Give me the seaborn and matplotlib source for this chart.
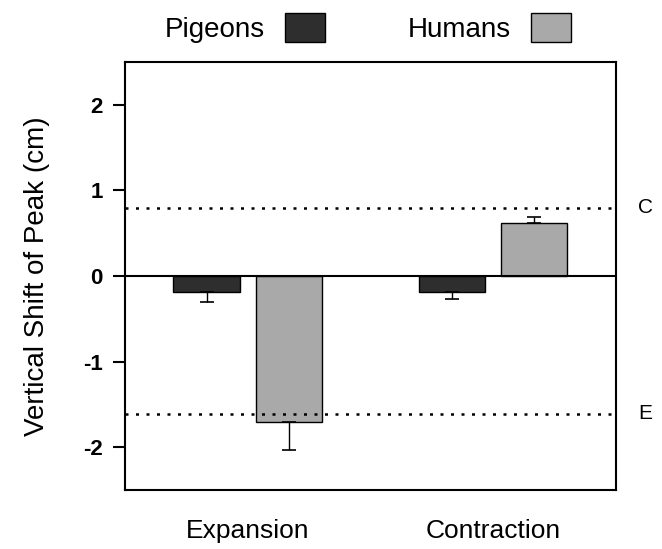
import numpy as np
import pandas as pd
import seaborn as sns
import matplotlib.pyplot as plt

conditions = ['Expansion', 'Contraction']
groups = ['Pigeons', 'Humans']
pigeon_shift = [-0.19, -0.19]
human_shift = [-1.71, 0.62]
pigeon_err = [0.11, 0.08]
human_err = [0.32, 0.075]
ref_lines = {'C': 0.80, 'E': -1.61}

df = pd.DataFrame({
    'Condition': conditions * 2,
    'Group': [groups[0]] * 2 + [groups[1]] * 2,
    'Shift': pigeon_shift + human_shift,
})
errs = {'Pigeons': pigeon_err, 'Humans': human_err}

sns.set_theme(style='white')
plt.rcParams['font.family'] = ['Liberation Sans', 'DejaVu Sans']
plt.rcParams['text.color'] = 'black'
plt.rcParams['axes.labelcolor'] = 'black'
plt.rcParams['xtick.color'] = 'black'
plt.rcParams['ytick.color'] = 'black'

fig = plt.figure(figsize=(6.62, 5.49), dpi=100)
ax = fig.add_axes([0.189, 0.1075, 0.741, 0.7795])

ax = sns.barplot(data=df, x='Condition', y='Shift', hue='Group', order=conditions,
                 hue_order=groups, palette=['#2e2e2e', '#a9a9a9'], width=0.67,
                 gap=0.19, edgecolor='black', linewidth=1.0, errorbar=None, ax=ax,
                 saturation=1)

# one-sided error bars, pointing away from zero
for container, g in zip(ax.containers, groups):
    for i, bar in enumerate(container):
        x = bar.get_x() + bar.get_width() / 2
        h = df.loc[(df['Group'] == g) & (df['Condition'] == conditions[i]), 'Shift'].iloc[0]
        e = errs[g][i]
        yerr = [[0], [e]] if h >= 0 else [[e], [0]]
        ax.errorbar(x, h, yerr=yerr, color='black', capsize=5, lw=1, capthick=1.2)

ax.axhline(0, color='black', lw=1.5, zorder=1)
for lab, v in ref_lines.items():
    ax.axhline(v, color='black', ls=(0, (1.2, 3)), lw=1.8)
    ax.text(1.06, v, lab, transform=ax.get_yaxis_transform(), fontsize=15,
            va='center', ha='center')

ax.set_ylim(-2.5, 2.5)
ax.set_xlim(-0.5, 1.5)
ax.set_yticks([-2, -1, 0, 1, 2])
ax.set_yticklabels(['-2', '-1', '0', '1', '2'], fontweight='bold')
ax.set_xlabel('')
ax.set_ylabel('Vertical Shift of Peak (cm)', fontsize=20, labelpad=24)
ax.tick_params(axis='y', left=True, direction='out', length=9, width=1.5,
               labelsize=16, pad=7)
ax.tick_params(axis='x', bottom=False, labelsize=19, pad=15)
for s in ax.spines.values():
    s.set_color('black')
    s.set_linewidth(1.5)

handles, labels = ax.get_legend_handles_labels()
ax.legend(handles, labels, ncol=2, markerfirst=False, loc='center',
          bbox_to_anchor=(0.556, 1 - 28 / 549), bbox_transform=fig.transFigure,
          frameon=False, fontsize=20, handlelength=1.45, handleheight=1.2,
          columnspacing=3.0, handletextpad=0.7)

fig.savefig('out.png', dpi=100)
